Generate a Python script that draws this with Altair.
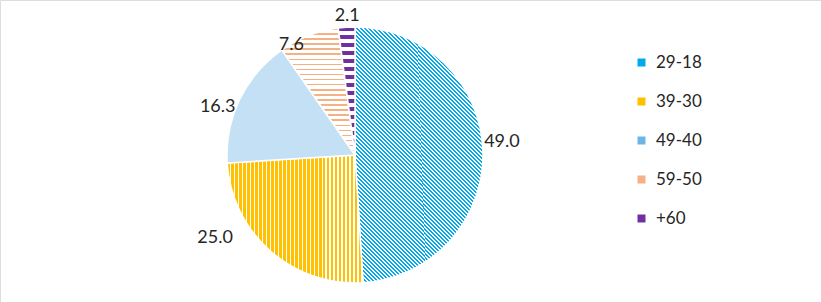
import altair as alt
import pandas as pd

# ---- data -------------------------------------------------------------
categories = ["29-18", "39-30", "49-40", "59-50", "+60"]
values = [49.0, 25.0, 16.3, 7.6, 2.1]

# ---- styling / layout ----------------------------------------------------
legend_colors = ["#00A8EC", "#FFC000", "#6BB6E4", "#F4B183", "#7030A0"]
CX, CY, R = 355, 155, 128
LABEL_R = 148
# label nudges (dx, dy) relative to the mid-angle position
label_nudge = {
    "29-18": (-1, -8),
    "39-30": (-42, -28),
    "49-40": (-4, 16),
    "59-50": (-10, 28),
    "+60": (2, 9),
}
FONT = "Lato"
TEXT_COLOR = "#262626"


def stripes(fg, bg, n, frac, x1, y1, x2, y2):
    stops = []
    for i in range(n):
        a = round(i / n, 5)
        b = round((i + frac) / n, 5)
        c = round((i + 1) / n, 5)
        stops += [
            {"offset": a, "color": fg},
            {"offset": b, "color": fg},
            {"offset": b, "color": bg},
            {"offset": c, "color": bg},
        ]
    return {"gradient": "linear", "stops": stops,
            "x1": x1, "y1": y1, "x2": x2, "y2": y2}


fills = {
    "29-18": stripes("#00A8EC", "#FFFFFF", 103, 0.5, 1, 0, 0.35, 1.28),
    "39-30": stripes("#FFC000", "#FFFFFF", 34, 0.6, 0, 0, 1, 0),
    "49-40": "#C4E0F4",
    "59-50": stripes("#F4B183", "#FFFFFF", 25, 0.3, 0, 0, 0, 1),
    "+60": stripes("#7030A0", "#FFFFFF", 16, 0.55, 0, 0, 0, 1),
}

df = pd.DataFrame({"group": categories, "value": values,
                   "order": list(range(len(categories)))})

base = (
    alt.Chart(df)
    .transform_window(cum="sum(value)", sort=[alt.SortField("order")],
                      frame=[None, 0])
    .transform_calculate(start="datum.cum - datum.value",
                         mid="datum.cum - datum.value / 2")
)

theta_scale = alt.Scale(domain=[0, 100])

pie_base = base.mark_arc(radius=R, stroke="white", strokeWidth=1.5).encode(
    theta=alt.Theta("start:Q", scale=theta_scale, stack=None),
    theta2="cum:Q",
    color=alt.Color(
        "group:N",
        scale=alt.Scale(domain=categories, range=legend_colors),
        legend=alt.Legend(
            title=None, orient="none", legendX=633, legendY=54,
            symbolType="square", symbolSize=64, symbolStrokeWidth=0,
            labelFont=FONT, labelFontSize=17, labelColor=TEXT_COLOR,
            rowPadding=21, labelOffset=6, padding=0,
        ),
    ),
    x=alt.value(CX),
    y=alt.value(CY),
)

layers = [pie_base]
for cat in categories:
    layers.append(
        base.transform_filter(alt.datum.group == cat)
        .mark_arc(radius=R, fill=fills[cat], stroke="white", strokeWidth=1.5)
        .encode(
            theta=alt.Theta("start:Q", scale=theta_scale, stack=None),
            theta2="cum:Q",
            x=alt.value(CX),
            y=alt.value(CY),
        )
    )

for cat in categories:
    dx, dy = label_nudge[cat]
    layers.append(
        base.transform_filter(alt.datum.group == cat)
        .mark_text(radius=LABEL_R, font=FONT, fontSize=18, color=TEXT_COLOR,
                   dx=dx, dy=dy, align="center", baseline="middle")
        .encode(
            theta=alt.Theta("mid:Q", scale=theta_scale, stack=None),
            text=alt.Text("value:Q", format=".1f"),
            x=alt.value(CX),
            y=alt.value(CY),
        )
    )

chart = (
    alt.layer(*layers)
    .properties(width=821, height=302,
                autosize=alt.AutoSizeParams(type="none"),
                padding=0)
    .configure_view(stroke=None)
    .configure(background="white")
)

chart.save("out.html", embed_options={"renderer": "svg", "actions": False})
